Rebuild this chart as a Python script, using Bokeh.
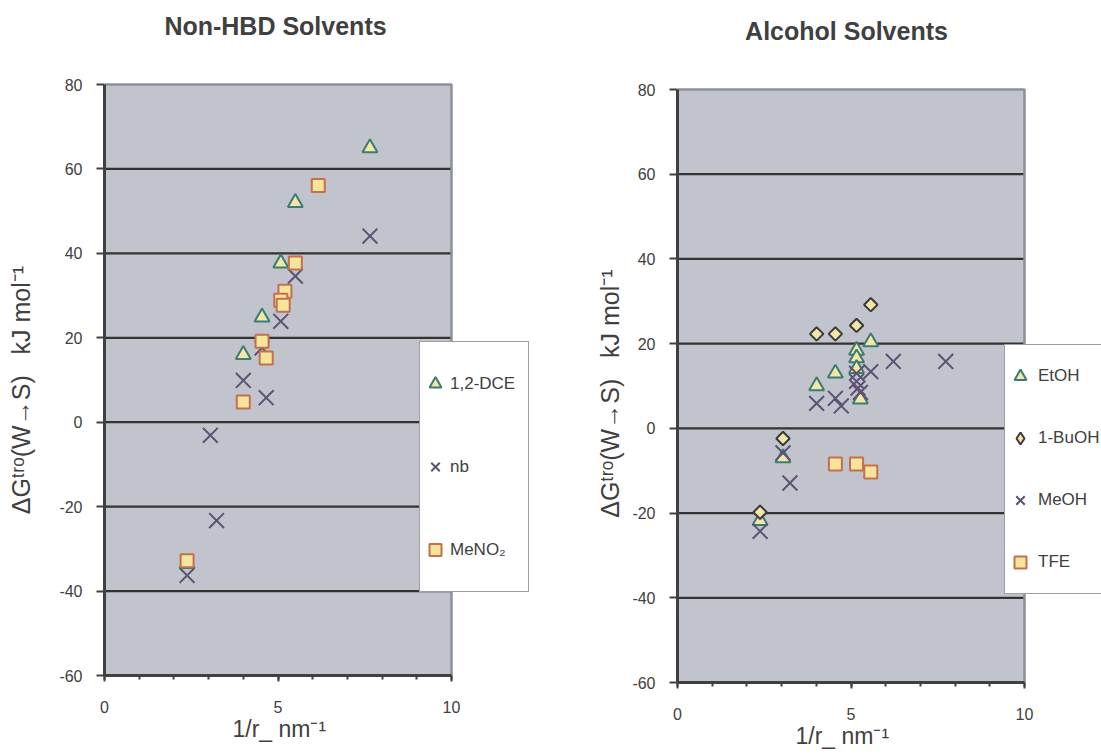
from bokeh.plotting import figure
from bokeh.models import FixedTicker, Legend, LegendItem, Range1d, Title, Label
from bokeh.layouts import row
from bokeh.embed import file_html
from bokeh.resources import INLINE
import math

# ---------------- data ----------------
# Non-HBD solvents
dce_x = [7.65, 5.50, 5.08, 4.54, 4.00, 2.38]
dce_y = [65.0, 52.0, 37.7, 24.9, 16.0, -33.5]
nb_x = [7.65, 5.50, 5.08, 4.54, 4.00, 4.66, 3.05, 3.23, 2.38]
nb_y = [44.1, 34.6, 23.9, 17.6, 9.9, 5.8, -3.1, -23.3, -36.3]
meno2_x = [6.16, 5.50, 5.20, 5.08, 5.15, 4.54, 4.66, 4.00, 2.38]
meno2_y = [56.1, 37.7, 31.0, 28.9, 27.7, 19.2, 15.2, 4.8, -32.8]

# Alcohol solvents
etoh_x = [5.57, 5.16, 5.16, 5.16, 4.55, 4.01, 5.27, 3.04, 2.38]
etoh_y = [20.4, 18.4, 16.6, 14.1, 13.0, 10.0, 6.9, -7.0, -21.8]
buoh_x = [5.57, 5.16, 4.55, 4.01, 3.04, 2.38]
buoh_y = [29.2, 24.3, 22.3, 22.3, -2.4, -19.8]
meoh_x = [7.73, 6.22, 5.57, 5.16, 5.16, 5.20, 5.27, 4.55, 4.01, 4.72, 3.04, 3.24, 2.38]
meoh_y = [15.8, 15.8, 13.4, 13.0, 11.1, 9.5, 8.5, 7.1, 5.9, 5.3, -5.8, -12.9, -24.3]
tfe_x = [4.55, 5.16, 5.57]
tfe_y = [-8.4, -8.4, -10.3]

titles = ["Non-HBD Solvents", "Alcohol Solvents"]
x_lo, x_hi = 0, 10
y_lo, y_hi = -60, 80
y_ticks = [-60, -40, -20, 0, 20, 40, 60, 80]
grid_ticks = [-40, -20, 0, 20, 40, 60]
x_ticks = [0, 5, 10]
x_minor = [0, 1, 2, 3, 4, 5, 6, 7, 8, 9, 10]
x_label = "1/r_ nm\u207b\u00b9"
y_label = "\u0394G\u1d57\u02b3\u1d52(W\u2192S)\u00a0\u00a0\u00a0kJ mol\u207b\u00b9"
# the axis title is centred on the whole (taller) frame; trailing
# no-break spaces move the visible text down onto the grey area
y_label_pad = "\u00a0" * 15

# ---------------- style ----------------
FONT = "Liberation Sans"
TXT = "#404040"
BG = "#C1C4CC"
TRI_FILL = "#F3E6A6"
TRI_LINE = "#3B7C74"
SQ_FILL = "#F6E49C"
SQ_LINE = "#C4704C"
X_COL = "#5C5272"
DIA_LINE = "#3A3A3A"
AREA_W = 347      # pixel width of the grey plotting area
BOTTOM = 73       # bottom border (axis + x label)


def make_fig(width, height, bl, area_top, area_h, title, title_pos,
             xlab_off, ylab_standoff):
    frame_w = width - bl
    frame_h = height - BOTTOM
    x_view_hi = x_hi * frame_w / AREA_W
    # the grey area spans [area_top, frame_h] pixels inside the frame
    y_view_hi = y_hi + area_top * (y_hi - y_lo) / area_h
    p = figure(width=width, height=height,
               x_range=Range1d(x_lo, x_view_hi), y_range=Range1d(y_lo, y_view_hi),
               output_backend="svg", toolbar_location=None,
               min_border_left=bl, min_border_right=0,
               min_border_top=0, min_border_bottom=BOTTOM)
    p.title = None
    p.background_fill_color = "white"
    p.border_fill_color = "white"
    p.outline_line_color = None
    p.xgrid.visible = False
    p.ygrid.visible = False

    # grey plotting area, grid lines and light outline (top / right)
    p.quad(left=[x_lo], right=[x_hi], bottom=[y_lo], top=[y_hi],
           fill_color=BG, line_color=None)
    p.segment(x0=[x_lo] * len(grid_ticks), x1=[x_hi] * len(grid_ticks),
              y0=grid_ticks, y1=grid_ticks, line_color="#333333", line_width=2.2)
    p.line(x=[x_lo, x_hi, x_hi], y=[y_hi, y_hi, y_lo],
           line_color="#8C9098", line_width=2.5)

    # chart title
    p.add_layout(Label(x=title_pos[0], y=frame_h - title_pos[1],
                       x_units="screen", y_units="screen", text=title,
                       text_align="center", text_baseline="middle",
                       text_font=FONT, text_font_size="25px",
                       text_font_style="bold", text_color=TXT))

    for ax in (p.xaxis[0], p.yaxis[0]):
        ax.axis_line_color = TXT
        ax.axis_line_width = 3
        ax.major_tick_line_color = TXT
        ax.major_tick_line_width = 2
        ax.minor_tick_line_color = TXT
        ax.minor_tick_line_width = 2
        ax.major_tick_in = 0
        ax.minor_tick_in = 0
        ax.major_label_text_font = FONT
        ax.major_label_text_font_size = "16px"
        ax.major_label_text_color = TXT
        ax.axis_label_text_font = FONT
        ax.axis_label_text_font_size = "25px"
        ax.axis_label_text_font_style = "normal"
        ax.axis_label_text_color = TXT

    xa = p.xaxis[0]
    xa.bounds = (x_lo, x_hi)
    xa.ticker = FixedTicker(ticks=x_ticks, minor_ticks=x_minor)
    xa.major_tick_out = 6
    xa.minor_tick_out = 4
    xa.major_label_standoff = 19

    p.add_layout(Title(text=x_label, align="left", offset=xlab_off,
                       vertical_align="top",
                       text_font=FONT, text_font_size="23px",
                       text_font_style="normal", text_color=TXT,
                       standoff=0), "below")

    ya = p.yaxis[0]
    ya.bounds = (y_lo, y_hi)
    ya.ticker = FixedTicker(ticks=y_ticks, minor_ticks=[])
    ya.major_tick_out = 8
    ya.major_label_standoff = 14
    ya.major_label_overrides = {t: str(t) for t in y_ticks}
    ya.axis_label = y_label + y_label_pad
    ya.axis_label_standoff = ylab_standoff
    return p


def add_legend(p, items, loc, item_h, glyph_w, standoff, label_w):
    lg = Legend(items=items, location=loc, orientation="vertical",
                glyph_width=glyph_w, glyph_height=item_h, label_height=item_h,
                label_width=label_w, label_standoff=standoff,
                spacing=0, padding=0, margin=0,
                label_text_font=FONT, label_text_font_size="17px",
                label_text_color=TXT,
                background_fill_color="white", background_fill_alpha=1.0,
                border_line_color="#404040", border_line_width=1.5)
    p.add_layout(lg)
    return lg


# ---------------- left chart ----------------
# figure 748 high -> frame bottom at 675 px; grey area from 84 px to 675 px
left = make_fig(580, 748, 104, 84, 591, titles[0], (171, 25), 128, 21)
r_dce = left.scatter(dce_x, dce_y, marker="triangle", size=15,
                     fill_color=TRI_FILL, line_color=TRI_LINE, line_width=2)
r_nb = left.scatter(nb_x, nb_y, marker="x", size=21,
                    line_color=X_COL, line_width=2)
r_meno2 = left.scatter(meno2_x, meno2_y, marker="square", size=13,
                       fill_color=SQ_FILL, line_color=SQ_LINE, line_width=2)
add_legend(left, [LegendItem(label="1,2-DCE", renderers=[r_dce]),
                  LegendItem(label="nb", renderers=[r_nb]),
                  LegendItem(label="MeNO\u2082", renderers=[r_meno2])],
           (315, 83), 83, 30, 0, 78)

# ---------------- right chart ----------------
# figure 755 high -> frame bottom at 682 px; grey area from 89 px to 682 px
right = make_fig(521, 755, 97, 89, 593, titles[1], (169, 30), 118, 5)
r_etoh = right.scatter(etoh_x, etoh_y, marker="triangle", size=15,
                       fill_color=TRI_FILL, line_color=TRI_LINE, line_width=2)
# diamond-shaped key for the legend, hidden underneath the plotted diamonds
r_buoh_key = right.scatter(buoh_x, buoh_y, marker="diamond", size=11,
                           fill_color=TRI_FILL, line_color=DIA_LINE, line_width=2)
r_buoh = right.scatter(buoh_x, buoh_y, marker="square", angle=math.pi / 4, size=9.5,
                       fill_color=TRI_FILL, line_color=DIA_LINE, line_width=2)
r_meoh = right.scatter(meoh_x, meoh_y, marker="x", size=21,
                       line_color=X_COL, line_width=2)
r_tfe = right.scatter(tfe_x, tfe_y, marker="square", size=13,
                      fill_color=SQ_FILL, line_color=SQ_LINE, line_width=2)
add_legend(right, [LegendItem(label="EtOH", renderers=[r_etoh]),
                   LegendItem(label="1-BuOH", renderers=[r_buoh_key]),
                   LegendItem(label="MeOH", renderers=[r_meoh]),
                   LegendItem(label="TFE", renderers=[r_tfe])],
           (327, 88), 62, 30, 3, 82)

layout = row(left, right)
open("out.html", "w").write(file_html(layout, INLINE))
